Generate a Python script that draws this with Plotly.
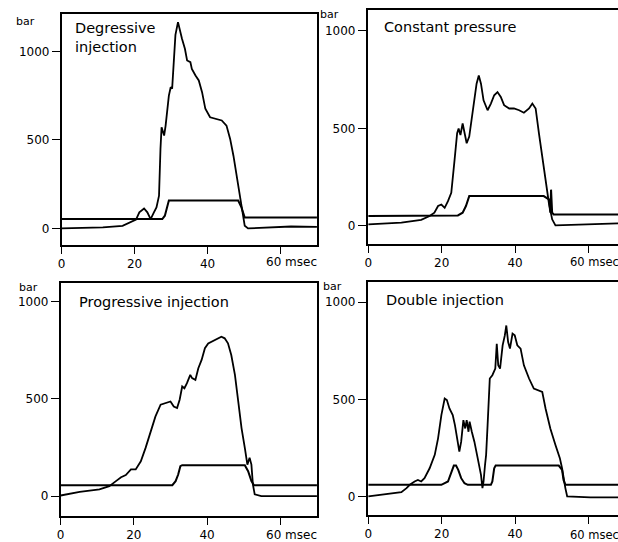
import plotly.graph_objects as go

# ---------------- data (msec, bar) ----------------
deg_t = [0, 11.3, 16.7, 19.9, 20.4, 21.3, 22.6, 23.5, 24.4, 25.3, 26.0, 26.5, 26.7, 27.1, 27.4, 28.1, 28.5,
         29.4, 29.9, 30.3, 30.8, 31.2, 31.9, 32.4, 33.0, 33.8, 34.4, 35.3, 35.7, 36.7, 37.6, 38.5, 39.4,
         40.7, 42.1, 43.9, 45.2, 46.2, 47.1, 48.0, 48.9, 49.5, 50.2, 51.1, 56.6, 62.9, 70]
deg_p = [0, 6, 15, 43, 50, 91, 113, 91, 53, 91, 119, 166, 185, 449, 572, 525, 580,
         751, 798, 790, 959, 1094, 1166, 1119, 1072, 1015, 949, 940, 902, 864, 836, 770, 676,
         628, 619, 610, 581, 506, 411, 298, 166, 91, 15, 0, 6, 11, 9]
deg_nt = [0, 27.6, 28.3, 29.0, 29.4, 48.4, 49.3, 50.2, 70]
deg_n = [53, 53, 72, 130, 158, 158, 119, 62, 62]

con_t = [0, 9, 14.4, 16.7, 18, 19, 19.9, 20.8, 21.7, 22.6, 23.5, 24.2, 24.6, 25.1, 25.7, 26.2, 26.8,
         27.5, 28.4, 28.9, 29.5, 30.1, 30.7, 31.4, 32.5, 33.4, 34.3, 35.2, 36.1, 37, 38.4, 39.7, 41.1,
         42.4, 43.8, 44.7, 45.6, 46.5, 47.4, 48.3, 49.2, 50.1, 51, 59.6, 68.5]
con_p = [8, 17, 31, 51, 68, 102, 110, 93, 127, 170, 339, 475, 500, 466, 525, 483, 424,
         458, 593, 644, 729, 771, 729, 644, 593, 627, 670, 686, 661, 619, 602, 602, 593,
         580, 602, 627, 602, 475, 356, 254, 119, 34, 3, 8, 14]
con_nt = [0, 24.4, 25.7, 26.6, 27.5, 47.8, 49.2, 49.6, 49.8, 50.1, 50.5, 68.5]
con_n = [51, 54, 68, 102, 153, 153, 136, 68, 186, 68, 59, 59]

pro_t = [0, 5.2, 10.6, 13.3, 15.1, 16.5, 17.8, 19.2, 20.5, 21.9, 23.2, 24.6, 25.9, 27.3, 28.6, 30,
         30.9, 31.8, 32.5, 33.2, 33.8, 34.5, 35.4, 35.9, 36.8, 37.6, 38.5, 39.4, 40.3, 42.1, 43.9,
         44.8, 45.7, 46.6, 47.6, 48.5, 49.4, 50.3, 51, 51.6, 52.1, 52.5, 53, 54.8, 60.2, 70]
pro_p = [3, 22, 34, 51, 77, 97, 108, 137, 137, 179, 248, 333, 410, 470, 479, 487,
         461, 453, 496, 564, 555, 581, 624, 607, 598, 658, 701, 761, 786, 803, 820,
         812, 786, 726, 624, 487, 350, 248, 162, 197, 162, 60, 9, 0, 0, 0]
pro_nt = [0, 30.5, 31.4, 32.1, 32.7, 33.2, 50.3, 51.2, 52.1, 52.8, 70]
pro_n = [56, 56, 77, 111, 154, 159, 159, 128, 77, 56, 56]

dbl_t = [0, 5.4, 9, 10.4, 11.3, 12.6, 13.5, 14.4, 15.3, 16.7, 18.1, 19, 19.9, 20.8, 21.4, 22.1, 23,
         23.6, 24.4, 24.8, 25.3, 25.9, 26.4, 26.8, 27.3, 27.6, 28.2, 28.9, 29.8, 30.7, 31.1, 31.4,
         31.8, 32.1, 32.5, 33.1, 33.8, 34.6, 35, 35.4, 35.9, 36.6, 37.2, 37.6, 38.1, 38.6, 39.3,
         39.9, 40.6, 41.5, 42.4, 43.8, 45.1, 46.5, 47.4, 48.3, 49.6, 51, 52.2, 52.8, 53.2, 53.7,
         54.2, 60.5, 68.5]
dbl_p = [0, 12, 22, 43, 60, 77, 85, 77, 94, 145, 214, 299, 419, 504, 496, 453, 419,
         367, 265, 231, 282, 393, 350, 393, 333, 385, 333, 282, 197, 111, 43, 77,
         162, 214, 367, 607, 624, 658, 786, 675, 658, 778, 829, 880, 795, 761, 838,
         829, 778, 761, 675, 607, 555, 547, 538, 453, 350, 265, 197, 145, 94, 43,
         0, -5, -5]
dbl_nt = [0, 19.9, 21.7, 22.6, 23.3, 23.9, 24.5, 25.3, 26.2, 27.1, 33.4, 33.8, 34.3, 34.7, 51.9,
          52.8, 53.2, 53.7, 68.5]
dbl_n = [60, 60, 77, 125, 159, 159, 137, 94, 68, 60, 60, 77, 145, 159, 159, 137, 85, 60, 60]

titles = ["Degressive<br>injection", "Constant pressure", "Progressive injection", "Double injection"]
y_ticks = [0, 500, 1000]
x_ticks = [0, 20, 40, 60]
x_ticktext = ["0", "20", "40", ""]

W, H = 618, 542
FONT = "DejaVu Sans"

panels = [
    dict(t=deg_t, p=deg_p, nt=deg_nt, n=deg_n, px=(58, 315), py=(14, 246), xr=[0, 70], yr=[-94, 1212],
         mirror_y=True, title_xy=(69, 38), bar_xy=(22, 22), msec_xy=(262, 263), msec_size=12),
    dict(t=con_t, p=con_p, nt=con_nt, n=con_n, px=(366, 618), py=(10, 245), xr=[-0.2, 68.05], yr=[-93, 1107],
         mirror_y=False, title_xy=(380, 27), bar_xy=(328, 15), msec_xy=(568, 263), msec_size=11.5),
    dict(t=pro_t, p=pro_p, nt=pro_nt, n=pro_n, px=(57, 315), py=(284, 518), xr=[0, 70], yr=[-103, 1097],
         mirror_y=True, title_xy=(73, 303), bar_xy=(25, 289), msec_xy=(262, 537), msec_size=12),
    dict(t=dbl_t, p=dbl_p, nt=dbl_nt, n=dbl_n, px=(366, 618), py=(283, 517), xr=[-0.2, 68.05], yr=[-96, 1104],
         mirror_y=False, title_xy=(382, 301), bar_xy=(331, 288), msec_xy=(568, 537), msec_size=11.5),
]

fig = go.Figure()
annotations = []
layout = dict(width=W, height=H, margin=dict(l=0, r=0, t=0, b=0), showlegend=False,
              paper_bgcolor="white", plot_bgcolor="white", font=dict(family=FONT, color="black"))

for i, pn in enumerate(panels, start=1):
    xa = "x" if i == 1 else f"x{i}"
    ya = "y" if i == 1 else f"y{i}"
    fig.add_trace(go.Scatter(x=pn["nt"], y=pn["n"], mode="lines", xaxis=xa, yaxis=ya,
                             line=dict(color="black", width=2), hoverinfo="skip"))
    fig.add_trace(go.Scatter(x=pn["t"], y=pn["p"], mode="lines", xaxis=xa, yaxis=ya,
                             line=dict(color="black", width=1.8), hoverinfo="skip"))
    x0, x1 = pn["px"]
    y0, y1 = pn["py"]
    layout["xaxis" if i == 1 else f"xaxis{i}"] = dict(
        domain=[x0 / W, x1 / W], range=pn["xr"], anchor=ya, showgrid=False, zeroline=False,
        showline=True, linecolor="black", linewidth=1.6, mirror=True,
        ticks="outside", ticklen=7, tickwidth=1.4, tickcolor="black",
        tickvals=x_ticks, ticktext=x_ticktext, tickfont=dict(size=12, family=FONT, color="black"))
    layout["yaxis" if i == 1 else f"yaxis{i}"] = dict(
        domain=[1 - y1 / H, 1 - y0 / H], range=pn["yr"], anchor=xa, showgrid=False, zeroline=False,
        showline=True, linecolor="black", linewidth=1.6, mirror=pn["mirror_y"],
        ticks="outside", ticklen=8, tickwidth=1.4, tickcolor="black",
        tickvals=y_ticks, tickfont=dict(size=12, family=FONT, color="black"))
    tx, ty = pn["title_xy"]
    annotations.append(dict(text=titles[i - 1], x=tx / W, y=1 - ty / H, xref="paper", yref="paper",
                            xanchor="left", yanchor="middle", showarrow=False, align="left",
                            font=dict(size=14.5, family=FONT, color="black")))
    bx, by = pn["bar_xy"]
    annotations.append(dict(text="bar", x=bx / W, y=1 - by / H, xref="paper", yref="paper",
                            xanchor="center", yanchor="middle", showarrow=False,
                            font=dict(size=11, family=FONT, color="black")))
    mx, my = pn["msec_xy"]
    annotations.append(dict(text="60 msec", x=mx / W, y=1 - my / H, xref="paper", yref="paper",
                            xanchor="left", yanchor="middle", showarrow=False,
                            font=dict(size=pn["msec_size"], family=FONT, color="black")))

layout["annotations"] = annotations
fig.update_layout(**layout)
fig.write_html("out.html")
